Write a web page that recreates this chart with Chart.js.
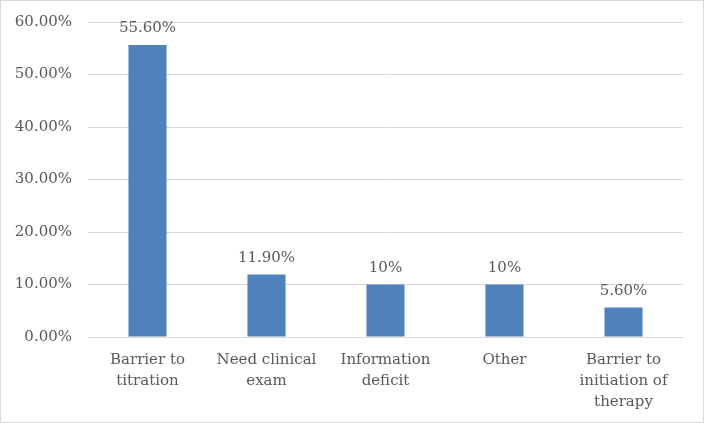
<!DOCTYPE html>
<html>
<head>
<meta charset="utf-8">
<script src="https://cdn.jsdelivr.net/npm/chart.js@4.4.0/dist/chart.umd.min.js"></script>
<style>
  html, body { margin: 0; padding: 0; background: #ffffff; }
  #wrap { position: relative; width: 702px; height: 421px; border: 1px solid #d9d9d9; }
</style>
</head>
<body>
<div id="wrap"><canvas id="barChart"></canvas></div>
<script>
const categories = [
  ['Barrier to', 'titration'],
  ['Need clinical', 'exam'],
  ['Information', 'deficit'],
  ['Other'],
  ['Barrier to', 'initiation of', 'therapy']
];
const values = [55.6, 11.9, 10, 10, 5.6];
const valueLabels = ['55.60%', '11.90%', '10%', '10%', '5.60%'];
const yTicks = [0, 10, 20, 30, 40, 50, 60];

const fontFamily = '"DejaVu Serif", serif';
const textColor = '#595959';
const gridColor = '#d9d9d9';

// draws the numbers above each bar
const valueLabelPlugin = {
  id: 'valueLabels',
  afterDatasetsDraw(chart) {
    const ctx = chart.ctx;
    const meta = chart.getDatasetMeta(0);
    ctx.save();
    ctx.font = '15px ' + fontFamily;
    ctx.fillStyle = textColor;
    ctx.textAlign = 'center';
    ctx.textBaseline = 'bottom';
    meta.data.forEach((bar, i) => {
      ctx.fillText(valueLabels[i], bar.x, bar.y - 9);
    });
    ctx.restore();
  }
};

const ctx = document.querySelector('#barChart');
new Chart(ctx, {
  type: 'bar',
  data: {
    labels: categories,
    datasets: [{
      data: values,
      backgroundColor: '#4f81bd',
      borderWidth: 0,
      barPercentage: 0.32,
      categoryPercentage: 1
    }]
  },
  options: {
    responsive: true,
    maintainAspectRatio: false,
    animation: false,
    layout: {
      padding: { top: 21, right: 20, bottom: 0, left: 0 }
    },
    plugins: {
      legend: { display: false },
      tooltip: { enabled: false }
    },
    scales: {
      x: {
        grid: { display: false },
        border: { color: gridColor, width: 1 },
        ticks: {
          color: textColor,
          font: { family: fontFamily, size: 15, lineHeight: 1.42 },
          padding: 4,
          maxRotation: 0,
          autoSkip: false
        },
        afterFit: (scale) => { scale.height = 421 - 336; }
      },
      y: {
        min: 0,
        max: 60,
        afterBuildTicks: (scale) => { scale.ticks = yTicks.map(v => ({ value: v })); },
        grid: { color: gridColor, drawTicks: false },
        border: { display: false },
        ticks: {
          color: textColor,
          font: { family: fontFamily, size: 15 },
          padding: 16,
          callback: (v) => v.toFixed(2) + '%'
        },
        afterFit: (scale) => {
          scale.width = 87;
          scale.paddingTop = 0;
          scale.paddingBottom = 0;
        }
      }
    }
  },
  plugins: [valueLabelPlugin]
});
</script>
</body>
</html>
